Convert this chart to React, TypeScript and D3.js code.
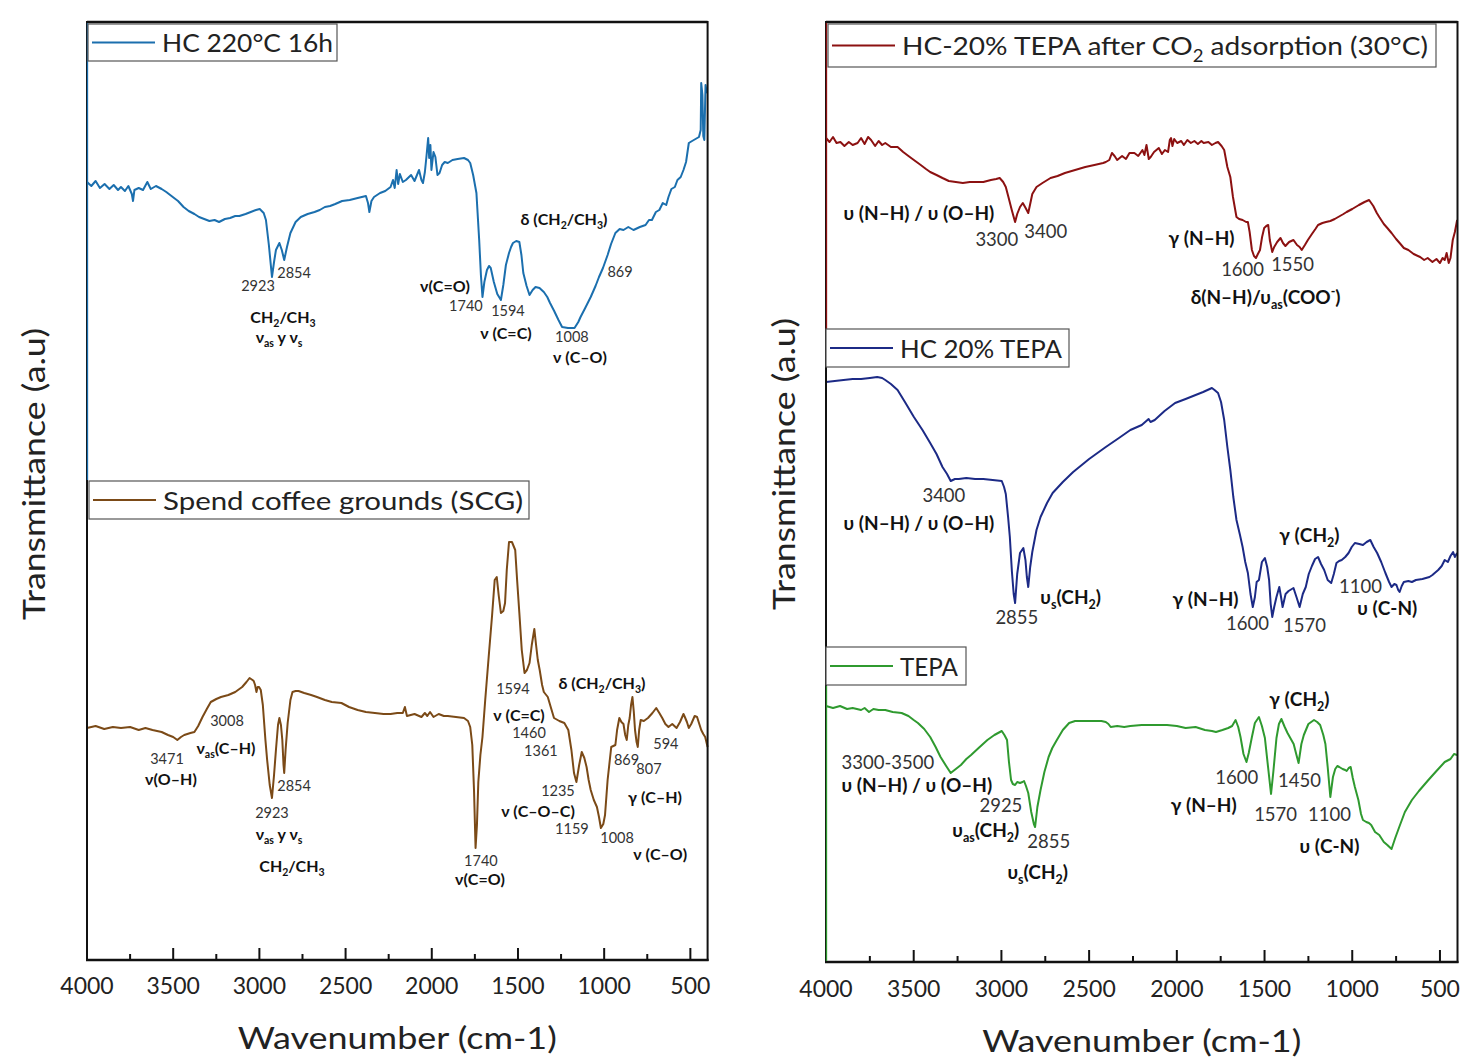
import React from "react";
import * as d3 from "d3";

// ---------- DATA (wavenumber cm-1, transmittance a.u.) ----------
const hc220: [number, number][] = [
[4000,77.8],[3975,77.4],[3950,77.9],[3925,77.2],[3898,77.6],[3870,77.1],[3845,77.5],[3820,77.0],[3803,77.3],[3780,76.9],[3760,77.4],[3740,76.6],[3733,75.9],[3725,77.0],[3700,77.2],[3675,77.0],[3650,77.8],[3630,77.1],[3600,77.4],[3567,77.1],[3540,76.8],[3510,76.4],[3472,75.9],[3440,75.3],[3410,74.9],[3377,74.6],[3350,74.3],[3320,74.1],[3290,73.9],[3260,74.0],[3234,73.8],[3200,74.1],[3170,74.2],[3140,74.4],[3116,74.4],[3080,74.6],[3050,74.8],[3020,75.0],[2998,75.1],[2975,74.7],[2962,74.0],[2945,71.5],[2927,68.3],[2915,69.8],[2904,71.0],[2884,71.7],[2870,71.0],[2856,70.0],[2840,71.3],[2820,72.7],[2790,73.8],[2760,74.3],[2720,74.6],[2680,74.8],[2650,75.0],[2620,75.3],[2590,75.4],[2560,75.6],[2520,75.9],[2476,76.0],[2430,76.2],[2382,76.4],[2370,75.7],[2362,74.8],[2350,75.9],[2335,76.3],[2300,76.7],[2270,76.9],[2239,77.3],[2225,78.0],[2215,77.2],[2204,79.0],[2195,77.6],[2185,78.6],[2168,77.8],[2150,78.0],[2120,78.5],[2100,77.9],[2074,79.0],[2060,78.0],[2051,77.7],[2040,78.8],[2030,80.5],[2021,82.2],[2015,80.2],[2008,81.5],[2002,79.0],[1990,80.8],[1979,80.3],[1967,78.5],[1955,78.7],[1940,79.5],[1925,79.8],[1907,79.7],[1880,80.0],[1850,80.1],[1813,80.2],[1790,80.0],[1777,79.7],[1760,78.5],[1741,76.7],[1725,72.0],[1715,68.5],[1706,66.3],[1695,67.8],[1680,69.0],[1668,69.4],[1658,69.2],[1640,67.8],[1620,66.6],[1599,66.0],[1585,67.5],[1570,69.5],[1552,70.7],[1540,71.3],[1529,71.7],[1510,71.9],[1492,71.8],[1480,70.5],[1469,68.7],[1450,67.4],[1433,66.5],[1415,67.0],[1398,67.3],[1375,67.2],[1350,66.8],[1330,66.3],[1314,65.7],[1290,64.9],[1265,64.0],[1244,63.3],[1210,63.2],[1172,63.2],[1150,63.8],[1137,64.3],[1110,65.2],[1078,66.3],[1050,67.4],[1030,68.3],[1007,69.2],[980,70.5],[960,71.6],[935,72.7],[910,73.1],[888,73.0],[860,73.3],[830,73.0],[793,73.3],[760,73.5],[740,74.0],[723,74.0],[700,74.8],[680,75.0],[660,75.7],[640,75.5],[627,76.3],[610,77.1],[590,77.3],[575,78.0],[556,78.3],[540,79.0],[525,79.8],[509,81.7],[490,81.9],[470,82.1],[450,82.3],[440,83.0],[437,87.7],[430,86.5],[425,82.4],[419,82.0],[412,87.5],[406,86.8],[402,86.7]
];

const scg: [number, number][] = [
[4000,23.2],[3950,23.4],[3900,23.1],[3850,23.3],[3803,23.2],[3750,23.3],[3700,23.0],[3661,23.2],[3620,23.0],[3567,22.8],[3530,22.5],[3500,22.3],[3476,22.0],[3455,22.3],[3436,22.5],[3400,22.7],[3377,22.8],[3355,23.4],[3330,24.3],[3305,25.1],[3282,25.8],[3250,26.1],[3223,26.3],[3180,26.5],[3140,26.8],[3100,27.3],[3075,27.8],[3057,28.2],[3040,28.0],[3033,27.9],[3025,27.5],[3017,26.8],[3010,27.3],[3002,27.3],[2992,27.0],[2980,25.5],[2965,22.0],[2955,20.0],[2940,17.5],[2927,16.2],[2915,18.5],[2904,21.0],[2892,23.5],[2884,24.2],[2875,23.5],[2867,22.0],[2860,19.5],[2856,18.7],[2848,21.0],[2836,23.7],[2820,26.0],[2808,26.8],[2790,26.9],[2773,26.9],[2740,26.7],[2700,26.5],[2666,26.3],[2620,26.0],[2580,25.8],[2524,25.7],[2480,25.3],[2430,25.0],[2382,24.8],[2330,24.7],[2280,24.6],[2239,24.6],[2200,24.7],[2168,24.7],[2156,25.3],[2144,24.4],[2100,24.6],[2060,24.3],[2040,24.7],[2026,24.4],[2010,24.8],[1990,24.3],[1960,24.6],[1930,24.4],[1907,24.4],[1860,24.3],[1813,24.2],[1790,23.9],[1777,23.3],[1765,21.5],[1755,17.0],[1746,11.2],[1738,13.5],[1730,17.8],[1718,20.5],[1706,22.3],[1690,26.0],[1670,30.3],[1650,34.5],[1635,38.0],[1623,38.3],[1612,36.5],[1599,34.7],[1585,34.9],[1575,35.7],[1565,39.0],[1552,41.8],[1535,41.8],[1516,41.0],[1505,38.0],[1492,34.7],[1478,31.0],[1462,28.7],[1448,29.0],[1433,29.7],[1420,31.5],[1405,33.1],[1395,31.5],[1385,30.0],[1374,29.0],[1360,27.5],[1350,26.8],[1327,26.3],[1310,25.3],[1291,24.2],[1260,23.9],[1231,23.7],[1208,23.0],[1190,21.0],[1175,18.7],[1161,17.8],[1145,19.5],[1130,20.8],[1115,20.2],[1102,19.3],[1090,18.0],[1078,17.0],[1060,16.0],[1042,15.3],[1030,14.3],[1019,13.2],[1005,13.6],[995,14.5],[980,18.0],[959,21.3],[935,21.5],[925,23.0],[912,24.2],[900,23.8],[888,23.6],[878,22.5],[869,22.0],[860,23.5],[852,24.2],[844,25.5],[836,26.3],[828,24.8],[821,23.0],[812,21.8],[805,21.3],[797,23.0],[788,24.0],[770,23.9],[746,24.2],[720,24.7],[698,25.2],[680,24.7],[663,24.2],[645,23.6],[627,23.3],[605,23.6],[580,23.2],[560,23.8],[540,24.6],[532,24.3],[520,23.8],[509,23.2],[495,23.6],[475,24.4],[461,24.3],[450,23.7],[437,23.0],[425,22.6],[414,22.3],[400,21.3]
];

const tepaCO2: [number, number][] = [
[4000,82.4],[3980,82.0],[3960,82.5],[3940,81.9],[3918,82.0],[3895,81.6],[3870,82.0],[3848,81.7],[3820,81.9],[3800,82.4],[3780,81.8],[3760,82.5],[3743,82.2],[3720,81.6],[3700,82.1],[3680,81.7],[3662,81.9],[3630,81.5],[3592,81.5],[3560,81.0],[3530,80.6],[3499,80.2],[3460,79.7],[3430,79.3],[3406,79.0],[3370,78.7],[3336,78.4],[3300,78.1],[3260,78.0],[3220,77.9],[3180,78.0],[3140,78.0],[3103,78.0],[3060,78.2],[3030,78.3],[3010,78.4],[2990,78.0],[2975,77.5],[2960,76.5],[2941,75.2],[2930,74.5],[2922,74.0],[2910,74.8],[2894,75.5],[2878,75.9],[2862,75.4],[2847,74.9],[2836,75.8],[2824,76.8],[2800,77.5],[2766,77.9],[2720,78.4],[2680,78.6],[2638,78.9],[2580,79.2],[2522,79.5],[2470,79.7],[2420,79.9],[2405,80.0],[2385,80.2],[2370,80.9],[2355,80.6],[2340,80.2],[2312,80.6],[2290,80.3],[2270,80.9],[2242,80.9],[2220,80.6],[2196,81.2],[2185,80.7],[2173,81.7],[2160,80.3],[2149,80.5],[2130,81.0],[2103,81.4],[2085,80.8],[2068,81.2],[2050,81.0],[2040,82.2],[2033,82.4],[2025,81.6],[2015,82.3],[1998,81.9],[1975,82.1],[1960,81.7],[1940,82.2],[1920,81.9],[1900,82.1],[1880,81.8],[1860,82.1],[1847,81.9],[1820,82.0],[1800,81.7],[1780,81.9],[1765,82.0],[1745,81.6],[1730,81.2],[1712,79.5],[1695,78.5],[1680,76.5],[1660,74.5],[1645,74.3],[1625,74.2],[1605,74.0],[1595,74.0],[1585,73.0],[1572,71.2],[1560,70.6],[1549,70.4],[1538,70.8],[1526,71.2],[1514,72.5],[1502,73.4],[1490,73.6],[1479,73.7],[1470,72.2],[1456,71.0],[1445,71.5],[1428,72.0],[1409,72.4],[1395,71.9],[1381,71.6],[1360,72.0],[1335,72.2],[1315,71.7],[1300,71.5],[1288,71.2],[1270,71.7],[1253,72.2],[1230,72.8],[1210,73.3],[1195,73.7],[1170,73.9],[1150,74.0],[1125,74.1],[1100,74.3],[1070,74.6],[1050,74.8],[1032,75.0],[1000,75.3],[962,75.7],[930,76.0],[904,76.2],[880,75.6],[860,74.9],[846,74.5],[820,73.8],[800,73.4],[776,72.9],[750,72.3],[730,71.9],[706,71.4],[680,71.2],[650,70.8],[613,70.5],[590,70.2],[570,70.4],[543,70.0],[520,70.3],[500,69.9],[485,70.4],[473,70.2],[462,70.9],[450,69.9],[440,70.4],[427,72.2],[415,73.0],[402,74.2]
];

const hcTepa: [number, number][] = [
[4000,58.0],[3950,58.1],[3900,58.2],[3848,58.3],[3800,58.3],[3750,58.4],[3708,58.5],[3680,58.4],[3662,58.2],[3630,57.8],[3592,57.2],[3550,56.0],[3499,54.5],[3450,53.2],[3406,51.9],[3370,50.8],[3336,49.5],[3310,48.8],[3289,48.1],[3265,48.3],[3243,48.3],[3200,48.4],[3150,48.3],[3103,48.3],[3050,48.2],[2998,48.1],[2985,47.5],[2975,46.8],[2962,44.5],[2952,42.5],[2940,39.0],[2930,36.8],[2922,35.9],[2910,38.8],[2894,40.9],[2875,41.4],[2863,40.2],[2855,38.5],[2847,37.5],[2836,39.5],[2824,41.0],[2800,43.2],[2777,44.5],[2740,45.9],[2708,46.9],[2650,48.0],[2591,49.0],[2500,50.3],[2405,51.5],[2330,52.4],[2265,53.2],[2200,53.7],[2161,54.3],[2150,54.0],[2126,54.2],[2070,55.1],[2010,55.9],[1950,56.3],[1893,56.7],[1850,57.0],[1800,57.4],[1785,57.2],[1765,56.9],[1748,56.0],[1730,54.2],[1712,51.5],[1695,49.2],[1678,46.5],[1660,44.2],[1640,42.7],[1625,41.5],[1610,40.0],[1595,38.9],[1580,36.8],[1567,35.5],[1555,36.5],[1545,38.0],[1532,38.2],[1515,40.0],[1498,40.4],[1485,39.5],[1474,38.2],[1465,35.8],[1456,34.5],[1445,35.5],[1432,36.5],[1416,37.5],[1406,36.5],[1397,35.5],[1380,36.8],[1363,37.1],[1335,37.4],[1318,36.5],[1300,35.5],[1282,36.8],[1265,37.5],[1248,38.8],[1230,39.6],[1212,40.3],[1195,40.5],[1178,39.8],[1160,39.2],[1140,38.2],[1120,37.9],[1105,38.8],[1090,39.9],[1075,40.1],[1060,40.2],[1040,40.5],[1021,40.9],[1003,41.5],[985,41.9],[960,41.8],[939,41.7],[918,42.0],[897,42.2],[878,41.5],[858,40.9],[835,40.0],[811,38.9],[790,38.0],[776,37.5],[760,37.8],[748,37.7],[738,37.2],[730,37.0],[718,37.6],[706,38.0],[680,38.1],[660,38.0],[637,38.2],[600,38.3],[560,38.5],[543,38.7],[510,39.2],[490,39.6],[473,40.2],[455,40.0],[440,40.6],[425,41.0],[415,40.5],[402,40.9]
];

const tepa: [number, number][] = [
[4000,25.6],[3960,25.4],[3920,25.6],[3880,25.3],[3848,25.4],[3800,25.2],[3780,25.4],[3755,25.0],[3730,25.3],[3700,25.2],[3662,25.2],[3620,25.0],[3569,24.9],[3530,24.6],[3500,24.2],[3476,23.9],[3440,23.3],[3406,22.5],[3375,21.5],[3347,20.5],[3315,19.6],[3289,18.9],[3260,19.3],[3231,19.7],[3200,20.3],[3173,20.7],[3130,21.4],[3080,22.2],[3040,22.7],[2998,23.1],[2983,22.7],[2968,22.2],[2957,20.0],[2945,18.2],[2935,17.8],[2922,17.7],[2910,18.0],[2894,17.9],[2880,18.0],[2871,18.1],[2860,17.6],[2847,16.9],[2830,15.0],[2815,13.8],[2808,13.5],[2795,15.5],[2777,17.2],[2755,19.0],[2731,20.5],[2710,21.4],[2684,22.2],[2650,23.2],[2614,23.9],[2580,24.1],[2545,24.1],[2480,24.1],[2430,24.1],[2405,24.0],[2390,23.8],[2377,23.5],[2340,23.6],[2300,23.5],[2265,23.6],[2200,23.7],[2130,23.7],[2056,23.7],[2000,23.6],[1950,23.4],[1893,23.5],[1840,23.2],[1800,23.1],[1777,23.0],[1740,23.2],[1707,23.4],[1685,23.6],[1665,24.2],[1650,23.5],[1637,22.5],[1620,20.8],[1603,20.0],[1590,20.9],[1572,22.5],[1555,23.9],[1532,24.5],[1515,23.6],[1498,22.4],[1480,19.5],[1463,16.8],[1450,19.0],[1432,22.4],[1418,23.8],[1404,24.3],[1385,23.5],[1369,22.9],[1350,22.3],[1334,21.8],[1318,20.7],[1306,19.9],[1290,21.8],[1276,22.7],[1250,23.8],[1218,24.2],[1200,24.0],[1183,23.7],[1165,22.7],[1153,21.8],[1140,19.5],[1125,16.5],[1110,18.5],[1097,19.3],[1085,19.6],[1074,19.5],[1055,19.3],[1040,19.2],[1032,19.1],[1020,19.4],[1009,19.5],[997,18.4],[985,17.5],[965,16.2],[950,14.8],[939,14.2],[920,14.0],[905,13.9],[892,13.7],[870,13.0],[846,12.7],[820,12.0],[800,11.7],[776,11.3],[755,12.4],[730,13.6],[700,15.0],[660,16.2],[620,17.1],[566,18.2],[520,19.1],[473,20.0],[440,20.3],[420,20.8],[402,20.7]
];

const majorTicks = [4000, 3500, 3000, 2500, 2000, 1500, 1000, 500];
const minorTicks = [3750, 3250, 2750, 2250, 1750, 1250, 750];

const legendNames = {
  hc220: "HC 220°C 16h",
  scg: "Spend coffee grounds (SCG)",
  tepaCO2: "HC-20% TEPA after CO_{2} adsorption (30°C)",
  hcTepa: "HC 20% TEPA",
  tepa: "TEPA",
};

// annotation: [text, wavenumber, value, kind] ; kind "n" = number, "b" = bold label
type Ann = [string, number, number, string];
const leftLabels: Ann[] = [
  ["2923", 3008, 67.4, "n"], ["2854", 2799, 68.7, "n"], ["CH_{2}/CH_{3}", 2863, 64.3, "b"],
  ["ν_{as} y ν_{s}", 2886, 62.3, "b"], ["ν(C=O)", 1923, 67.4, "b"], ["1740", 1802, 65.4, "n"],
  ["1594", 1558, 64.9, "n"], ["ν (C=C)", 1570, 62.7, "b"], ["δ (CH_{2}/CH_{3})", 1233, 74.1, "b"],
  ["869", 908, 68.8, "n"], ["1008", 1187, 62.3, "n"], ["ν (C–O)", 1140, 60.3, "b"],
  ["3471", 3536, 20.1, "n"], ["ν(O–H)", 3513, 18.1, "b"], ["3008", 3188, 23.9, "n"],
  ["ν_{as}(C–H)", 3194, 21.2, "b"], ["2854", 2799, 17.4, "n"], ["2923", 2927, 14.7, "n"],
  ["ν_{as} y ν_{s}", 2886, 12.6, "b"], ["CH_{2}/CH_{3}", 2811, 9.4, "b"], ["1740", 1715, 9.9, "n"],
  ["ν(C=O)", 1720, 8.1, "b"], ["1594", 1529, 27.1, "n"], ["δ (CH_{2}/CH_{3})", 1013, 27.7, "b"],
  ["ν (C=C)", 1494, 24.5, "b"], ["1460", 1436, 22.7, "n"], ["1361", 1367, 20.9, "n"],
  ["1235", 1268, 16.9, "n"], ["ν (C–O–C)", 1384, 14.9, "b"], ["1159", 1187, 13.1, "n"],
  ["869", 870, 20.0, "n"], ["807", 740, 19.1, "n"], ["594", 642, 21.6, "n"],
  ["γ (C–H)", 705, 16.3, "b"], ["1008", 925, 12.2, "n"], ["ν (C–O)", 675, 10.6, "b"],
];
const rightLabels: Ann[] = [
  ["υ (N–H) / υ (O–H)", 3470, 74.9, "b"], ["3300", 3026, 72.2, "n"], ["3400", 2747, 73.0, "n"],
  ["γ (N–H)", 1859, 72.4, "b"], ["1600", 1625, 69.2, "n"], ["1550", 1340, 69.7, "n"],
  ["δ(N–H)/υ_{as}(COO^{-})", 1494, 66.5, "b"],
  ["3400", 3328, 46.6, "n"], ["υ (N–H) / υ (O–H)", 3470, 43.9, "b"], ["υ_{s}(CH_{2})", 2605, 36.5, "b"],
  ["2855", 2912, 34.4, "n"], ["γ (CH_{2})", 1244, 42.7, "b"], ["γ (N–H)", 1836, 36.3, "b"],
  ["1600", 1597, 33.8, "n"], ["1570", 1272, 33.6, "n"], ["1100", 953, 37.5, "n"],
  ["υ (C-N)", 800, 35.4, "b"],
  ["3300-3500", 3647, 19.9, "n"], ["υ (N–H) / υ (O–H)", 3482, 17.7, "b"], ["2925", 3003, 15.6, "n"],
  ["υ_{as}(CH_{2})", 3089, 13.2, "b"], ["2855", 2730, 12.0, "n"], ["υ_{s}(CH_{2})", 2793, 9.0, "b"],
  ["γ (CH_{2})", 1301, 26.3, "b"], ["1600", 1659, 18.4, "n"], ["1450", 1301, 18.1, "n"],
  ["γ (N–H)", 1847, 15.7, "b"], ["1570", 1437, 14.7, "n"], ["1100", 1130, 14.7, "n"],
  ["υ (C-N)", 1130, 11.6, "b"],
];

// ---------- STYLE ----------
const FONT = "Lato, 'Open Sans', sans-serif";
const COLORS = { hc220: "#1b6fae", scg: "#7b4a17", tepaCO2: "#8c1111", hcTepa: "#1c2a86", tepa: "#2f9a2f" };

function Rich({ x, y, text, size, weight = 400, fill = "#111", anchor = "middle", textLength }: any) {
  const tokens = text.split(/(_\{[^}]*\}|\^\{[^}]*\})/).filter((t: string) => t.length > 0);
  let shift = 0;
  const spans = tokens.map((t: string, i: number) => {
    let mode = "n";
    let s = t;
    if (t.startsWith("_{")) { mode = "sub"; s = t.slice(2, -1); }
    else if (t.startsWith("^{")) { mode = "sup"; s = t.slice(2, -1); }
    const target = mode === "sub" ? size * 0.28 : mode === "sup" ? -size * 0.38 : 0;
    const dy = target - shift;
    shift = target;
    return (
      <tspan key={i} dy={dy} fontSize={mode === "n" ? size : size * 0.66}>{s}</tspan>
    );
  });
  return (
    <text x={x} y={y + size * 0.35} textAnchor={anchor} fontFamily={FONT} fontSize={size}
      fontWeight={weight} fill={fill} textLength={textLength} lengthAdjust="spacingAndGlyphs">
      {spans}
    </text>
  );
}

function Panel({ x0, x1, y0, y1, yMax, series, labels, numSize, boldSize, legends, edgeColors, yTitle, tickY, titleY }: any) {
  const x = d3.scaleLinear().domain([4000, 400]).range([x0, x1]);
  const y = d3.scaleLinear().domain([0, yMax]).range([y1, y0]);
  const line = d3.line<[number, number]>().x(d => x(d[0])).y(d => y(d[1])).curve(d3.curveLinear);
  return (
    <g>
      {series.map((s: any, i: number) => (
        <path key={i} d={line(s.data) || ""} fill="none" stroke={s.color} strokeWidth={2} strokeLinejoin="round" />
      ))}
      {/* frame */}
      <rect x={x0} y={y0} width={x1 - x0} height={y1 - y0} fill="none" stroke="#111" strokeWidth={2} />
      <line x1={x0} x2={x1} y1={y0} y2={y0} stroke="#111" strokeWidth={2.6} />
      <line x1={x0 - 1} x2={x1 + 1} y1={y1} y2={y1} stroke="#111" strokeWidth={2.6} />
      {edgeColors.map((e: any, i: number) => (
        <line key={i} x1={x0 + 0.5} x2={x0 + 0.5} y1={e.from} y2={e.to} stroke={e.color} strokeWidth={1.3} />
      ))}
      {/* ticks */}
      {majorTicks.map(t => (
        <g key={"M" + t}>
          {t !== 4000 && <line x1={x(t)} x2={x(t)} y1={y1} y2={y1 - 12} stroke="#111" strokeWidth={2} />}
          <text x={x(t)} y={tickY} textAnchor="middle" dominantBaseline="central" fontFamily={FONT} fontSize={23} fill="#222">{t}</text>
        </g>
      ))}
      {minorTicks.map(t => (
        <line key={"m" + t} x1={x(t)} x2={x(t)} y1={y1} y2={y1 - 6} stroke="#111" strokeWidth={2} />
      ))}
      <text x={(x(4000) + x(400)) / 2} y={titleY} textAnchor="middle" dominantBaseline="central"
        fontFamily={FONT} fontSize={30} fill="#222" textLength={319} lengthAdjust="spacingAndGlyphs">Wavenumber (cm-1)</text>
      <text transform={`translate(${yTitle.x},${yTitle.y}) rotate(-90)`} textAnchor="middle" dominantBaseline="central"
        fontFamily={FONT} fontSize={30} fill="#222" textLength={292} lengthAdjust="spacingAndGlyphs">Transmittance (a.u)</text>
      {/* legends */}
      {legends.map((l: any, i: number) => (
        <g key={i}>
          <rect x={l.bx} y={l.by} width={l.bw} height={l.bh} fill="#fff" stroke="#555" strokeWidth={1.2} />
          <line x1={l.bx + 4} x2={l.bx + 67} y1={l.by + l.bh / 2} y2={l.by + l.bh / 2} stroke={l.color} strokeWidth={2} />
          <Rich x={l.bx + 74} y={l.by + l.bh / 2 + 1} text={l.text} size={25} weight={400} fill="#222" anchor="start" textLength={l.tw} />
        </g>
      ))}
      {/* annotations */}
      {labels.map((a: Ann, i: number) => (
        <Rich key={i} x={x(a[1])} y={y(a[2])} text={a[0]}
          size={a[3] === "n" ? numSize : boldSize} weight={a[3] === "n" ? 400 : 700}
          fill={a[3] === "n" ? "#333" : "#111"} />
      ))}
    </g>
  );
}

export default function App() {
  return (
    <svg width={1460} height={1057} style={{ position: "absolute", left: 0, top: 0, background: "#fff" }}>
      <rect x={0} y={0} width={1460} height={1057} fill="#fff" />
      <Panel x0={87} x1={707.6} y0={22} y1={960} yMax={93.8}
        series={[{ data: hc220, color: COLORS.hc220 }, { data: scg, color: COLORS.scg }]}
        labels={leftLabels} numSize={14.5} boldSize={16}
        legends={[
          { bx: 88, by: 24, bw: 249, bh: 37, color: COLORS.hc220, text: legendNames.hc220, tw: 171 },
          { bx: 89, by: 481, bw: 440, bh: 38, color: COLORS.scg, text: legendNames.scg, tw: 360 },
        ]}
        edgeColors={[{ from: 23, to: 480, color: COLORS.hc220 }]}
        yTitle={{ x: 33, y: 474 }} tickY={985} titleY={1037} />
      <Panel x0={826} x1={1457.5} y0={22} y1={962} yMax={94}
        series={[{ data: tepaCO2, color: COLORS.tepaCO2 }, { data: hcTepa, color: COLORS.hcTepa }, { data: tepa, color: COLORS.tepa }]}
        labels={rightLabels} numSize={18.5} boldSize={19}
        legends={[
          { bx: 828, by: 24, bw: 608, bh: 43, color: COLORS.tepaCO2, text: legendNames.tepaCO2, tw: 526 },
          { bx: 826, by: 329, bw: 243, bh: 38, color: COLORS.hcTepa, text: legendNames.hcTepa, tw: 162 },
          { bx: 826, by: 647, bw: 140, bh: 38, color: COLORS.tepa, text: legendNames.tepa, tw: 58 },
        ]}
        edgeColors={[{ from: 23, to: 330, color: COLORS.tepaCO2 }, { from: 686, to: 961, color: COLORS.tepa }]}
        yTitle={{ x: 783, y: 464 }} tickY={988} titleY={1040} />
    </svg>
  );
}
